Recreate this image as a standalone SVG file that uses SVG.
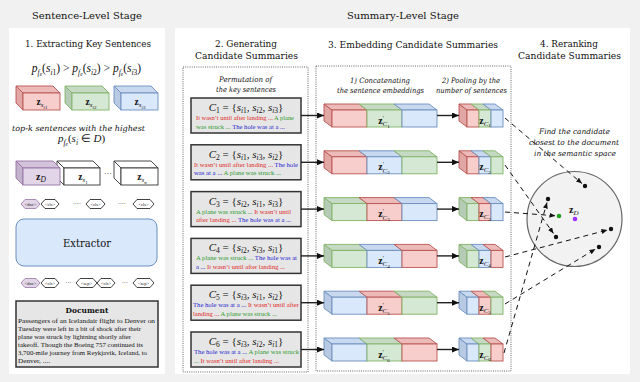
<svg xmlns="http://www.w3.org/2000/svg" width="640" height="382" viewBox="0 0 640 382" font-family="'DejaVu Serif', serif">
<style>
svg text{font-family:"DejaVu Serif",serif;fill:#111}
svg text.m,svg text.sl,svg text.doc,svg text.zl,svg text.fm,svg text.tt{font-family:"Liberation Serif","Times New Roman",serif}
.h1{font-size:9.9px}
.h2{font-size:9px}
.it{font-style:italic}
.note{font-size:7.4px;font-style:italic}
.cbox{fill:#e6e6e6;stroke:#333;stroke-width:1.5}
.dbox{fill:none;stroke:#555;stroke-width:0.9;stroke-dasharray:1 1.2}
.conn{stroke:#222;stroke-width:1.4;fill:none}
.dash{stroke:#111;stroke-width:1;stroke-dasharray:5 4;fill:none}
.rf{fill:#f8cecc;stroke:#b85450;stroke-width:0.9}.rt{fill:#ecbab8;stroke:#b85450;stroke-width:0.9}.rs{fill:#e0a7a5;stroke:#b85450;stroke-width:0.9}
.gf{fill:#d5e8d4;stroke:#82b366;stroke-width:0.9}.gt{fill:#c5d9c4;stroke:#82b366;stroke-width:0.9}.gs{fill:#b6cbb5;stroke:#82b366;stroke-width:0.9}
.bf{fill:#dae8fc;stroke:#6c8ebf;stroke-width:0.9}.bt{fill:#c8d8ef;stroke:#6c8ebf;stroke-width:0.9}.bs{fill:#b8c9e2;stroke:#6c8ebf;stroke-width:0.9}
.pf{fill:#e1d5e7;stroke:#9673a6;stroke-width:0.9}.pt{fill:#d2c3da;stroke:#9673a6;stroke-width:0.9}.ps{fill:#c3b2cc;stroke:#9673a6;stroke-width:0.9}
.wf{fill:#fff;stroke:#333;stroke-width:0.9}
.tok{fill:#fff;stroke:#111;stroke-width:0.8}
.tokp{fill:#e1d5e7;stroke:#9673a6;stroke-width:0.8}
.tt{font-size:4.4px;text-anchor:middle}
.zl{font-size:10px;text-anchor:middle}
.sl{font-size:6.2px}
.R{fill:#e0281e}.G{fill:#2e9a2e}.B{fill:#1f1fd0}
.doc{font-size:7px}
.fm{font-size:11px;text-anchor:middle}
</style>
<defs>
<marker id="ah" markerWidth="7" markerHeight="6" refX="7" refY="3" orient="auto" markerUnits="userSpaceOnUse"><path d="M0,0L7,3L0,6Z" fill="#111"/></marker>
<marker id="ad" markerWidth="6" markerHeight="5" refX="6" refY="2.5" orient="auto" markerUnits="userSpaceOnUse"><path d="M0,0L6,2.5L0,5Z" fill="#111"/></marker>
<g id="Lr"><path class="rt" d="M-8,-6H27L35,0H0Z"/><rect class="rf" width="35" height="17"/></g>
<g id="Lg"><path class="gt" d="M-8,-6H27L35,0H0Z"/><rect class="gf" width="35" height="17"/></g>
<g id="Lb"><path class="bt" d="M-8,-6H27L35,0H0Z"/><rect class="bf" width="35" height="17"/></g>
<g id="Sr"><path class="rt" d="M-8,-6H4L12,0H0Z"/><rect class="rf" width="12" height="17"/></g>
<g id="Sg"><path class="gt" d="M-8,-6H4L12,0H0Z"/><rect class="gf" width="12" height="17"/></g>
<g id="Sb"><path class="bt" d="M-8,-6H4L12,0H0Z"/><rect class="bf" width="12" height="17"/></g>
<path id="Er" class="rs" d="M-8,-6L0,0V17L-8,11Z"/>
<path id="Eg" class="gs" d="M-8,-6L0,0V17L-8,11Z"/>
<path id="Eb" class="bs" d="M-8,-6L0,0V17L-8,11Z"/>
</defs>

<rect width="640" height="382" fill="#f1f1f1"/>
<rect x="9" y="28" width="156" height="346" fill="#fff"/>
<rect x="175" y="28" width="455" height="346" fill="#fff"/>

<text class="h1" x="87" y="19" text-anchor="middle" textLength="110" lengthAdjust="spacingAndGlyphs">Sentence-Level Stage</text>
<text class="h1" x="403" y="19" text-anchor="middle" textLength="112" lengthAdjust="spacingAndGlyphs">Summary-Level Stage</text>

<!-- Column 1 -->
<g id="extract-key-sentences">
<text class="h2" x="88" y="47" text-anchor="middle" textLength="126" lengthAdjust="spacingAndGlyphs">1. Extracting Key Sentences</text>
<text class="m" x="86.5" y="72" style="font-size:11.5px" text-anchor="middle"><tspan class="it">p</tspan><tspan dy="2.5" font-size="7.5" class="it">f</tspan><tspan dy="1.5" font-size="5.5" class="it">e</tspan><tspan dy="-4">(</tspan><tspan class="it">s</tspan><tspan dy="2.5" font-size="7.5"><tspan class="it">i</tspan>1</tspan><tspan dy="-2.5">) &gt; </tspan><tspan class="it">p</tspan><tspan dy="2.5" font-size="7.5" class="it">f</tspan><tspan dy="1.5" font-size="5.5" class="it">e</tspan><tspan dy="-4">(</tspan><tspan class="it">s</tspan><tspan dy="2.5" font-size="7.5"><tspan class="it">i</tspan>2</tspan><tspan dy="-2.5">) &gt; </tspan><tspan class="it">p</tspan><tspan dy="2.5" font-size="7.5" class="it">f</tspan><tspan dy="1.5" font-size="5.5" class="it">e</tspan><tspan dy="-4">(</tspan><tspan class="it">s</tspan><tspan dy="2.5" font-size="7.5"><tspan class="it">i</tspan>3</tspan><tspan dy="-2.5">)</tspan></text>
</g>

<g id="cube-si1">
<path class="rt" d="M16,86H53L60,93H23Z"/><path class="rs" d="M16,86L23,93V110L16,103Z"/><rect class="rf" x="23" y="93" width="37" height="17"/>
<text class="zl" x="42" y="105" style="font-size:9.5px"><tspan font-weight="bold">z</tspan><tspan dy="2" font-size="7" class="it">s</tspan><tspan dy="1.5" font-size="5"><tspan class="it">i</tspan>1</tspan></text>
</g>
<g id="cube-si2">
<path class="gt" d="M65,86H102L109,93H72Z"/><path class="gs" d="M65,86L72,93V110L65,103Z"/><rect class="gf" x="72" y="93" width="37" height="17"/>
<text class="zl" x="91" y="105" style="font-size:9.5px"><tspan font-weight="bold">z</tspan><tspan dy="2" font-size="7" class="it">s</tspan><tspan dy="1.5" font-size="5"><tspan class="it">i</tspan>2</tspan></text>
</g>
<g id="cube-si3">
<path class="bt" d="M114,86H151L158,93H121Z"/><path class="bs" d="M114,86L121,93V110L114,103Z"/><rect class="bf" x="121" y="93" width="37" height="17"/>
<text class="zl" x="140" y="105" style="font-size:9.5px"><tspan font-weight="bold">z</tspan><tspan dy="2" font-size="7" class="it">s</tspan><tspan dy="1.5" font-size="5"><tspan class="it">i</tspan>3</tspan></text>
</g>

<text class="it" x="78.5" y="131" style="font-size:7.9px" text-anchor="middle" textLength="133" lengthAdjust="spacingAndGlyphs">top-k sentences with the highest</text>
<text class="m" x="81.5" y="142" style="font-size:11px" text-anchor="middle"><tspan class="it">p</tspan><tspan dy="2.5" font-size="7.5" class="it">f</tspan><tspan dy="1.5" font-size="5.5" class="it">e</tspan><tspan dy="-4">(</tspan><tspan class="it">s</tspan><tspan dy="2.5" font-size="7.5" class="it">i</tspan><tspan dy="-2.5"> ∈ </tspan><tspan class="it">D</tspan>)</text>

<g id="cube-s1">
<path class="wf" d="M57,161H93L100,168H64Z"/><path class="wf" d="M57,161L64,168V185L57,178Z"/><rect class="wf" x="64" y="168" width="36" height="17"/>
<text class="zl" x="83" y="180" style="font-size:9.5px"><tspan font-weight="bold">z</tspan><tspan dy="2" font-size="7" class="it">s</tspan><tspan dy="1.5" font-size="5">1</tspan></text>
</g>
<g id="cube-zD">
<path class="pt" d="M16,161H53L60,168H23Z"/><path class="ps" d="M16,161L23,168V185L16,178Z"/><rect class="pf" x="23" y="168" width="37" height="17"/>
<text class="zl" x="41" y="180" style="font-size:10px"><tspan font-weight="bold">z</tspan><tspan dy="2" font-size="7.5" class="it">D</tspan></text>
</g>
<text class="m" x="108" y="176" style="font-size:8px" text-anchor="middle">···</text>
<g id="cube-sn">
<path class="wf" d="M114,161H151L158,168H121Z"/><path class="wf" d="M114,161L121,168V185L114,178Z"/><rect class="wf" x="121" y="168" width="37" height="17"/>
<text class="zl" x="142" y="180" style="font-size:9.5px"><tspan font-weight="bold">z</tspan><tspan dy="2" font-size="7" class="it">s</tspan><tspan dy="1.5" font-size="5" class="it">n</tspan></text>
</g>

<g id="tokens-out">
<path class="tokp" d="M21,204L25,199.5H36L40,204L36,208.5H25Z"/><text class="tt" x="30.5" y="205.5">&lt;doc&gt;</text>
<path class="tok" d="M41,204L45,199.5H55L59,204L55,208.5H45Z"/><text class="tt" x="50" y="205.5">&lt;cls&gt;</text>
<text class="m" x="77" y="206" style="font-size:6px" text-anchor="middle">····</text>
<path class="tok" d="M86,204L90,199.5H101L105,204L101,208.5H90Z"/><text class="tt" x="95.5" y="205.5">&lt;cls&gt;</text>
<text class="m" x="122" y="206" style="font-size:6px" text-anchor="middle">····</text>
<path class="tok" d="M133,204L137,199.5H150L154,204L150,208.5H137Z"/><text class="tt" x="143.5" y="205.5">&lt;cls&gt;</text>
</g>

<g id="extractor">
<rect x="16" y="219" width="141" height="47" rx="8" fill="#dae8fc" stroke="#6c8ebf" stroke-width="1"/>
<text x="87" y="246.5" style="font-size:10.5px" text-anchor="middle" textLength="48" lengthAdjust="spacingAndGlyphs">Extractor</text>
</g>

<g id="tokens-in">
<path class="tokp" d="M21,283L25,278.5H36L40,283L36,287.5H25Z"/><text class="tt" x="30.5" y="284.5">&lt;doc&gt;</text>
<path class="tok" d="M41,283L45,278.5H55L59,283L55,287.5H45Z"/><text class="tt" x="50" y="284.5">&lt;cls&gt;</text>
<text class="m" x="68.5" y="285" style="font-size:6px" text-anchor="middle">···</text>
<path class="tok" d="M76,283L80,278.5H93L97,283L93,287.5H80Z"/><text class="tt" x="86.5" y="284.5">&lt;sep&gt;</text>
<path class="tok" d="M97,283L101,278.5H111L115,283L111,287.5H101Z"/><text class="tt" x="106" y="284.5">&lt;cls&gt;</text>
<text class="m" x="125" y="285" style="font-size:6px" text-anchor="middle">···</text>
<path class="tok" d="M133,283L137,278.5H150L154,283L150,287.5H137Z"/><text class="tt" x="143.5" y="284.5">&lt;sep&gt;</text>
</g>

<g id="document">
<rect class="cbox" x="16" y="301" width="142" height="66"/>
<text x="87" y="313" style="font-size:8.2px;font-weight:bold" text-anchor="middle" textLength="43" lengthAdjust="spacingAndGlyphs">Document</text>
<text class="doc" x="18" y="323" textLength="137" lengthAdjust="spacingAndGlyphs">Passengers of an Icelandair flight to Denver on</text>
<text class="doc" x="18" y="331" textLength="123" lengthAdjust="spacingAndGlyphs">Tuesday were left in a bit of shock after their</text>
<text class="doc" x="18" y="339" textLength="113" lengthAdjust="spacingAndGlyphs">plane was struck by lightning shortly after</text>
<text class="doc" x="18" y="347" textLength="125" lengthAdjust="spacingAndGlyphs">takeoff. Though the Boeing 757 continued its</text>
<text class="doc" x="18" y="355" textLength="129" lengthAdjust="spacingAndGlyphs">3,700-mile journey from Reykjavik, Iceland, to</text>
<text class="doc" x="18" y="363" textLength="32" lengthAdjust="spacingAndGlyphs">Denver,  ....</text>
</g>

<!-- Column 2 -->
<text class="h2" x="246" y="47" text-anchor="middle" textLength="62" lengthAdjust="spacingAndGlyphs">2. Generating</text>
<text class="h2" x="246.5" y="59" text-anchor="middle" textLength="103" lengthAdjust="spacingAndGlyphs">Candidate Summaries</text>
<rect class="dbox" x="183" y="67" width="125" height="305"/>
<text class="note" x="245.5" y="82" text-anchor="middle" textLength="53" lengthAdjust="spacingAndGlyphs">Permutation of</text>
<text class="note" x="246" y="92" text-anchor="middle" textLength="60" lengthAdjust="spacingAndGlyphs">the key sentences</text>

<g id="c1">
<rect class="cbox" x="191" y="98" width="110" height="35"/>
<text class="fm" x="246" y="111"><tspan class="it">C</tspan><tspan dy="2" font-size="7.5">1</tspan><tspan dy="-2"> = {</tspan><tspan class="it">s</tspan><tspan dy="2" font-size="7.5"><tspan class="it">i</tspan>1</tspan><tspan dy="-2">, </tspan><tspan class="it">s</tspan><tspan dy="2" font-size="7.5"><tspan class="it">i</tspan>2</tspan><tspan dy="-2">, </tspan><tspan class="it">s</tspan><tspan dy="2" font-size="7.5"><tspan class="it">i</tspan>3</tspan><tspan dy="-2">}</tspan></text>
<text class="sl" x="196" y="120" textLength="98" lengthAdjust="spacingAndGlyphs"><tspan class="R">It wasn’t until after landing ... </tspan><tspan class="G">A plane</tspan></text>
<text class="sl" x="196" y="128.5" textLength="89" lengthAdjust="spacingAndGlyphs"><tspan class="G">was struck ... </tspan><tspan class="B">The hole was at a ...</tspan></text>
</g>
<g id="c2">
<rect class="cbox" x="191" y="144.8" width="110" height="35"/>
<text class="fm" x="246" y="157.8"><tspan class="it">C</tspan><tspan dy="2" font-size="7.5">2</tspan><tspan dy="-2"> = {</tspan><tspan class="it">s</tspan><tspan dy="2" font-size="7.5"><tspan class="it">i</tspan>1</tspan><tspan dy="-2">, </tspan><tspan class="it">s</tspan><tspan dy="2" font-size="7.5"><tspan class="it">i</tspan>3</tspan><tspan dy="-2">, </tspan><tspan class="it">s</tspan><tspan dy="2" font-size="7.5"><tspan class="it">i</tspan>2</tspan><tspan dy="-2">}</tspan></text>
<text class="sl" x="194" y="166.8" textLength="104" lengthAdjust="spacingAndGlyphs"><tspan class="R">It wasn’t until after landing ... </tspan><tspan class="B">The hole</tspan></text>
<text class="sl" x="194" y="175.3" textLength="87" lengthAdjust="spacingAndGlyphs"><tspan class="B">was at a ... </tspan><tspan class="G">A plane was struck ...</tspan></text>
</g>
<g id="c3">
<rect class="cbox" x="191" y="191.6" width="110" height="35"/>
<text class="fm" x="246" y="204.6"><tspan class="it">C</tspan><tspan dy="2" font-size="7.5">3</tspan><tspan dy="-2"> = {</tspan><tspan class="it">s</tspan><tspan dy="2" font-size="7.5"><tspan class="it">i</tspan>2</tspan><tspan dy="-2">, </tspan><tspan class="it">s</tspan><tspan dy="2" font-size="7.5"><tspan class="it">i</tspan>1</tspan><tspan dy="-2">, </tspan><tspan class="it">s</tspan><tspan dy="2" font-size="7.5"><tspan class="it">i</tspan>3</tspan><tspan dy="-2">}</tspan></text>
<text class="sl" x="196" y="213.6" textLength="95" lengthAdjust="spacingAndGlyphs"><tspan class="G">A plane was struck ... </tspan><tspan class="R">It wasn’t until</tspan></text>
<text class="sl" x="196" y="222.1" textLength="95" lengthAdjust="spacingAndGlyphs"><tspan class="R">after landing ... </tspan><tspan class="B">The hole was at a ...</tspan></text>
</g>
<g id="c4">
<rect class="cbox" x="191" y="238.4" width="110" height="35"/>
<text class="fm" x="246" y="251.4"><tspan class="it">C</tspan><tspan dy="2" font-size="7.5">4</tspan><tspan dy="-2"> = {</tspan><tspan class="it">s</tspan><tspan dy="2" font-size="7.5"><tspan class="it">i</tspan>2</tspan><tspan dy="-2">, </tspan><tspan class="it">s</tspan><tspan dy="2" font-size="7.5"><tspan class="it">i</tspan>3</tspan><tspan dy="-2">, </tspan><tspan class="it">s</tspan><tspan dy="2" font-size="7.5"><tspan class="it">i</tspan>1</tspan><tspan dy="-2">}</tspan></text>
<text class="sl" x="196" y="260.4" textLength="101" lengthAdjust="spacingAndGlyphs"><tspan class="G">A plane was struck ... </tspan><tspan class="B">The hole was at</tspan></text>
<text class="sl" x="196" y="268.9" textLength="89" lengthAdjust="spacingAndGlyphs"><tspan class="B">a ... </tspan><tspan class="R">It wasn’t until after landing ...</tspan></text>
</g>
<g id="c5">
<rect class="cbox" x="191" y="285.2" width="110" height="35"/>
<text class="fm" x="246" y="298.2"><tspan class="it">C</tspan><tspan dy="2" font-size="7.5">5</tspan><tspan dy="-2"> = {</tspan><tspan class="it">s</tspan><tspan dy="2" font-size="7.5"><tspan class="it">i</tspan>3</tspan><tspan dy="-2">, </tspan><tspan class="it">s</tspan><tspan dy="2" font-size="7.5"><tspan class="it">i</tspan>1</tspan><tspan dy="-2">, </tspan><tspan class="it">s</tspan><tspan dy="2" font-size="7.5"><tspan class="it">i</tspan>2</tspan><tspan dy="-2">}</tspan></text>
<text class="sl" x="193" y="307.2" textLength="106" lengthAdjust="spacingAndGlyphs"><tspan class="B">The hole was at a ... </tspan><tspan class="R">It wasn’t until after</tspan></text>
<text class="sl" x="193" y="315.7" textLength="84" lengthAdjust="spacingAndGlyphs"><tspan class="R">landing ... </tspan><tspan class="G">A plane was struck ...</tspan></text>
</g>
<g id="c6">
<rect class="cbox" x="191" y="332" width="110" height="35"/>
<text class="fm" x="246" y="345"><tspan class="it">C</tspan><tspan dy="2" font-size="7.5">6</tspan><tspan dy="-2"> = {</tspan><tspan class="it">s</tspan><tspan dy="2" font-size="7.5"><tspan class="it">i</tspan>3</tspan><tspan dy="-2">, </tspan><tspan class="it">s</tspan><tspan dy="2" font-size="7.5"><tspan class="it">i</tspan>2</tspan><tspan dy="-2">, </tspan><tspan class="it">s</tspan><tspan dy="2" font-size="7.5"><tspan class="it">i</tspan>1</tspan><tspan dy="-2">}</tspan></text>
<text class="sl" x="194" y="354" textLength="105" lengthAdjust="spacingAndGlyphs"><tspan class="B">The hole was at a ... </tspan><tspan class="G">A plane was struck</tspan></text>
<text class="sl" x="194" y="362.5" textLength="85" lengthAdjust="spacingAndGlyphs"><tspan class="G">... </tspan><tspan class="R">It wasn’t until after landing ...</tspan></text>
</g>

<!-- Column 3 -->
<text class="h2" x="413" y="48" text-anchor="middle" textLength="170" lengthAdjust="spacingAndGlyphs">3. Embedding Candidate Summaries</text>
<rect class="dbox" x="316" y="66" width="195" height="305"/>
<text class="note" x="380" y="83" text-anchor="middle" textLength="60" lengthAdjust="spacingAndGlyphs">1) Concatenating</text>
<text class="note" x="380.5" y="93" text-anchor="middle" textLength="87" lengthAdjust="spacingAndGlyphs">the sentence embeddings</text>
<text class="note" x="471" y="83" text-anchor="middle" textLength="58" lengthAdjust="spacingAndGlyphs">2) Pooling by the</text>
<text class="note" x="471.5" y="93" text-anchor="middle" textLength="71" lengthAdjust="spacingAndGlyphs">number of sentences</text>

<g id="emb1"><use href="#Er" x="332" y="110"/><use href="#Lr" x="332" y="110"/><use href="#Lg" x="367" y="110"/><use href="#Lb" x="402" y="110"/>
<text class="zl" x="384" y="123.5"><tspan font-weight="bold">z</tspan><tspan dy="-4" font-size="6">′</tspan><tspan dx="-1.5" dy="6.5" font-size="7" class="it">C</tspan><tspan dy="1.5" font-size="5">1</tspan></text></g>
<g id="pool1"><use href="#Er" x="467" y="110"/><use href="#Sr" x="467" y="110"/><use href="#Sg" x="479" y="110"/><use href="#Sb" x="491" y="110"/>
<text class="zl" x="485" y="123.5"><tspan font-weight="bold">z</tspan><tspan dy="2" font-size="7" class="it">C</tspan><tspan dy="1.5" font-size="5">1</tspan></text></g>

<g id="emb2"><use href="#Er" x="332" y="156.8"/><use href="#Lr" x="332" y="156.8"/><use href="#Lb" x="367" y="156.8"/><use href="#Lg" x="402" y="156.8"/>
<text class="zl" x="384" y="170.3"><tspan font-weight="bold">z</tspan><tspan dy="-4" font-size="6">′</tspan><tspan dx="-1.5" dy="6.5" font-size="7" class="it">C</tspan><tspan dy="1.5" font-size="5">2</tspan></text></g>
<g id="pool2"><use href="#Er" x="467" y="156.8"/><use href="#Sr" x="467" y="156.8"/><use href="#Sb" x="479" y="156.8"/><use href="#Sg" x="491" y="156.8"/>
<text class="zl" x="485" y="170.3"><tspan font-weight="bold">z</tspan><tspan dy="2" font-size="7" class="it">C</tspan><tspan dy="1.5" font-size="5">2</tspan></text></g>

<g id="emb3"><use href="#Eg" x="332" y="203.6"/><use href="#Lg" x="332" y="203.6"/><use href="#Lr" x="367" y="203.6"/><use href="#Lb" x="402" y="203.6"/>
<text class="zl" x="384" y="217.1"><tspan font-weight="bold">z</tspan><tspan dy="-4" font-size="6">′</tspan><tspan dx="-1.5" dy="6.5" font-size="7" class="it">C</tspan><tspan dy="1.5" font-size="5">3</tspan></text></g>
<g id="pool3"><use href="#Eg" x="467" y="203.6"/><use href="#Sg" x="467" y="203.6"/><use href="#Sr" x="479" y="203.6"/><use href="#Sb" x="491" y="203.6"/>
<text class="zl" x="485" y="217.1"><tspan font-weight="bold">z</tspan><tspan dy="2" font-size="7" class="it">C</tspan><tspan dy="1.5" font-size="5">3</tspan></text></g>

<g id="emb4"><use href="#Eg" x="332" y="250.4"/><use href="#Lg" x="332" y="250.4"/><use href="#Lb" x="367" y="250.4"/><use href="#Lr" x="402" y="250.4"/>
<text class="zl" x="384" y="263.9"><tspan font-weight="bold">z</tspan><tspan dy="-4" font-size="6">′</tspan><tspan dx="-1.5" dy="6.5" font-size="7" class="it">C</tspan><tspan dy="1.5" font-size="5">4</tspan></text></g>
<g id="pool4"><use href="#Eg" x="467" y="250.4"/><use href="#Sg" x="467" y="250.4"/><use href="#Sb" x="479" y="250.4"/><use href="#Sr" x="491" y="250.4"/>
<text class="zl" x="485" y="263.9"><tspan font-weight="bold">z</tspan><tspan dy="2" font-size="7" class="it">C</tspan><tspan dy="1.5" font-size="5">4</tspan></text></g>

<g id="emb5"><use href="#Eb" x="332" y="297.2"/><use href="#Lb" x="332" y="297.2"/><use href="#Lr" x="367" y="297.2"/><use href="#Lg" x="402" y="297.2"/>
<text class="zl" x="384" y="310.7"><tspan font-weight="bold">z</tspan><tspan dy="-4" font-size="6">′</tspan><tspan dx="-1.5" dy="6.5" font-size="7" class="it">C</tspan><tspan dy="1.5" font-size="5">5</tspan></text></g>
<g id="pool5"><use href="#Eb" x="467" y="297.2"/><use href="#Sb" x="467" y="297.2"/><use href="#Sr" x="479" y="297.2"/><use href="#Sg" x="491" y="297.2"/>
<text class="zl" x="485" y="310.7"><tspan font-weight="bold">z</tspan><tspan dy="2" font-size="7" class="it">C</tspan><tspan dy="1.5" font-size="5">5</tspan></text></g>

<g id="emb6"><use href="#Eb" x="332" y="344"/><use href="#Lb" x="332" y="344"/><use href="#Lg" x="367" y="344"/><use href="#Lr" x="402" y="344"/>
<text class="zl" x="384" y="357.5"><tspan font-weight="bold">z</tspan><tspan dy="-4" font-size="6">′</tspan><tspan dx="-1.5" dy="6.5" font-size="7" class="it">C</tspan><tspan dy="1.5" font-size="5">6</tspan></text></g>
<g id="pool6"><use href="#Eb" x="467" y="344"/><use href="#Sb" x="467" y="344"/><use href="#Sg" x="479" y="344"/><use href="#Sr" x="491" y="344"/>
<text class="zl" x="485" y="357.5"><tspan font-weight="bold">z</tspan><tspan dy="2" font-size="7" class="it">C</tspan><tspan dy="1.5" font-size="5">6</tspan></text></g>

<!-- Column 4 -->
<text class="h2" x="569" y="47" text-anchor="middle" textLength="58" lengthAdjust="spacingAndGlyphs">4. Reranking</text>
<text class="h2" x="569.5" y="59" text-anchor="middle" textLength="103" lengthAdjust="spacingAndGlyphs">Candidate Summaries</text>
<text class="note" x="574.5" y="134" text-anchor="middle" textLength="71" lengthAdjust="spacingAndGlyphs">Find the candidate</text>
<text class="note" x="574" y="145" text-anchor="middle" textLength="90" lengthAdjust="spacingAndGlyphs">closest to the document</text>
<text class="note" x="575" y="156" text-anchor="middle" textLength="82" lengthAdjust="spacingAndGlyphs">in the semantic space</text>

<g id="semantic-space">
<circle cx="574.5" cy="219" r="47.5" fill="#f2f2f2" stroke="#666" stroke-width="1.2"/>
<circle cx="575" cy="219" r="2.3" fill="#9b30ff"/>
<text class="m" x="569" y="212.5" style="font-size:10px"><tspan font-weight="bold">z</tspan><tspan dy="2" font-size="7" class="it">D</tspan></text>
<circle cx="559" cy="216" r="2.3" fill="#22a022"/>
<circle cx="585" cy="186" r="2.2" fill="#111"/>
<circle cx="556" cy="237" r="2.2" fill="#111"/>
<circle cx="611" cy="229" r="2.2" fill="#111"/>
<circle cx="599" cy="247" r="2.2" fill="#111"/>
<circle cx="548" cy="199" r="2.2" fill="#111"/>
</g>

<g id="connectors">
<line class="conn" x1="301" y1="115.5" x2="324" y2="115.5" marker-end="url(#ah)"/>
<line class="conn" x1="301" y1="162.3" x2="324" y2="162.3" marker-end="url(#ah)"/>
<line class="conn" x1="301" y1="209.1" x2="324" y2="209.1" marker-end="url(#ah)"/>
<line class="conn" x1="301" y1="255.9" x2="324" y2="255.9" marker-end="url(#ah)"/>
<line class="conn" x1="301" y1="302.7" x2="324" y2="302.7" marker-end="url(#ah)"/>
<line class="conn" x1="301" y1="349.5" x2="324" y2="349.5" marker-end="url(#ah)"/>
<line class="conn" x1="437" y1="115.5" x2="459" y2="115.5" marker-end="url(#ah)"/>
<line class="conn" x1="437" y1="162.3" x2="459" y2="162.3" marker-end="url(#ah)"/>
<line class="conn" x1="437" y1="209.1" x2="459" y2="209.1" marker-end="url(#ah)"/>
<line class="conn" x1="437" y1="255.9" x2="459" y2="255.9" marker-end="url(#ah)"/>
<line class="conn" x1="437" y1="302.7" x2="459" y2="302.7" marker-end="url(#ah)"/>
<line class="conn" x1="437" y1="349.5" x2="459" y2="349.5" marker-end="url(#ah)"/>
<line class="dash" x1="505" y1="118" x2="582" y2="183.5" marker-end="url(#ad)"/>
<line class="dash" x1="505" y1="165" x2="553.5" y2="233.5" marker-end="url(#ad)"/>
<line class="dash" x1="505" y1="212" x2="555.5" y2="215.8" marker-end="url(#ad)"/>
<line class="dash" x1="505" y1="257" x2="607.5" y2="230" marker-end="url(#ad)"/>
<line class="dash" x1="505" y1="304" x2="595.5" y2="249" marker-end="url(#ad)"/>
<line class="dash" x1="504" y1="353" x2="547" y2="202.5" marker-end="url(#ad)"/>
</g>
</svg>
